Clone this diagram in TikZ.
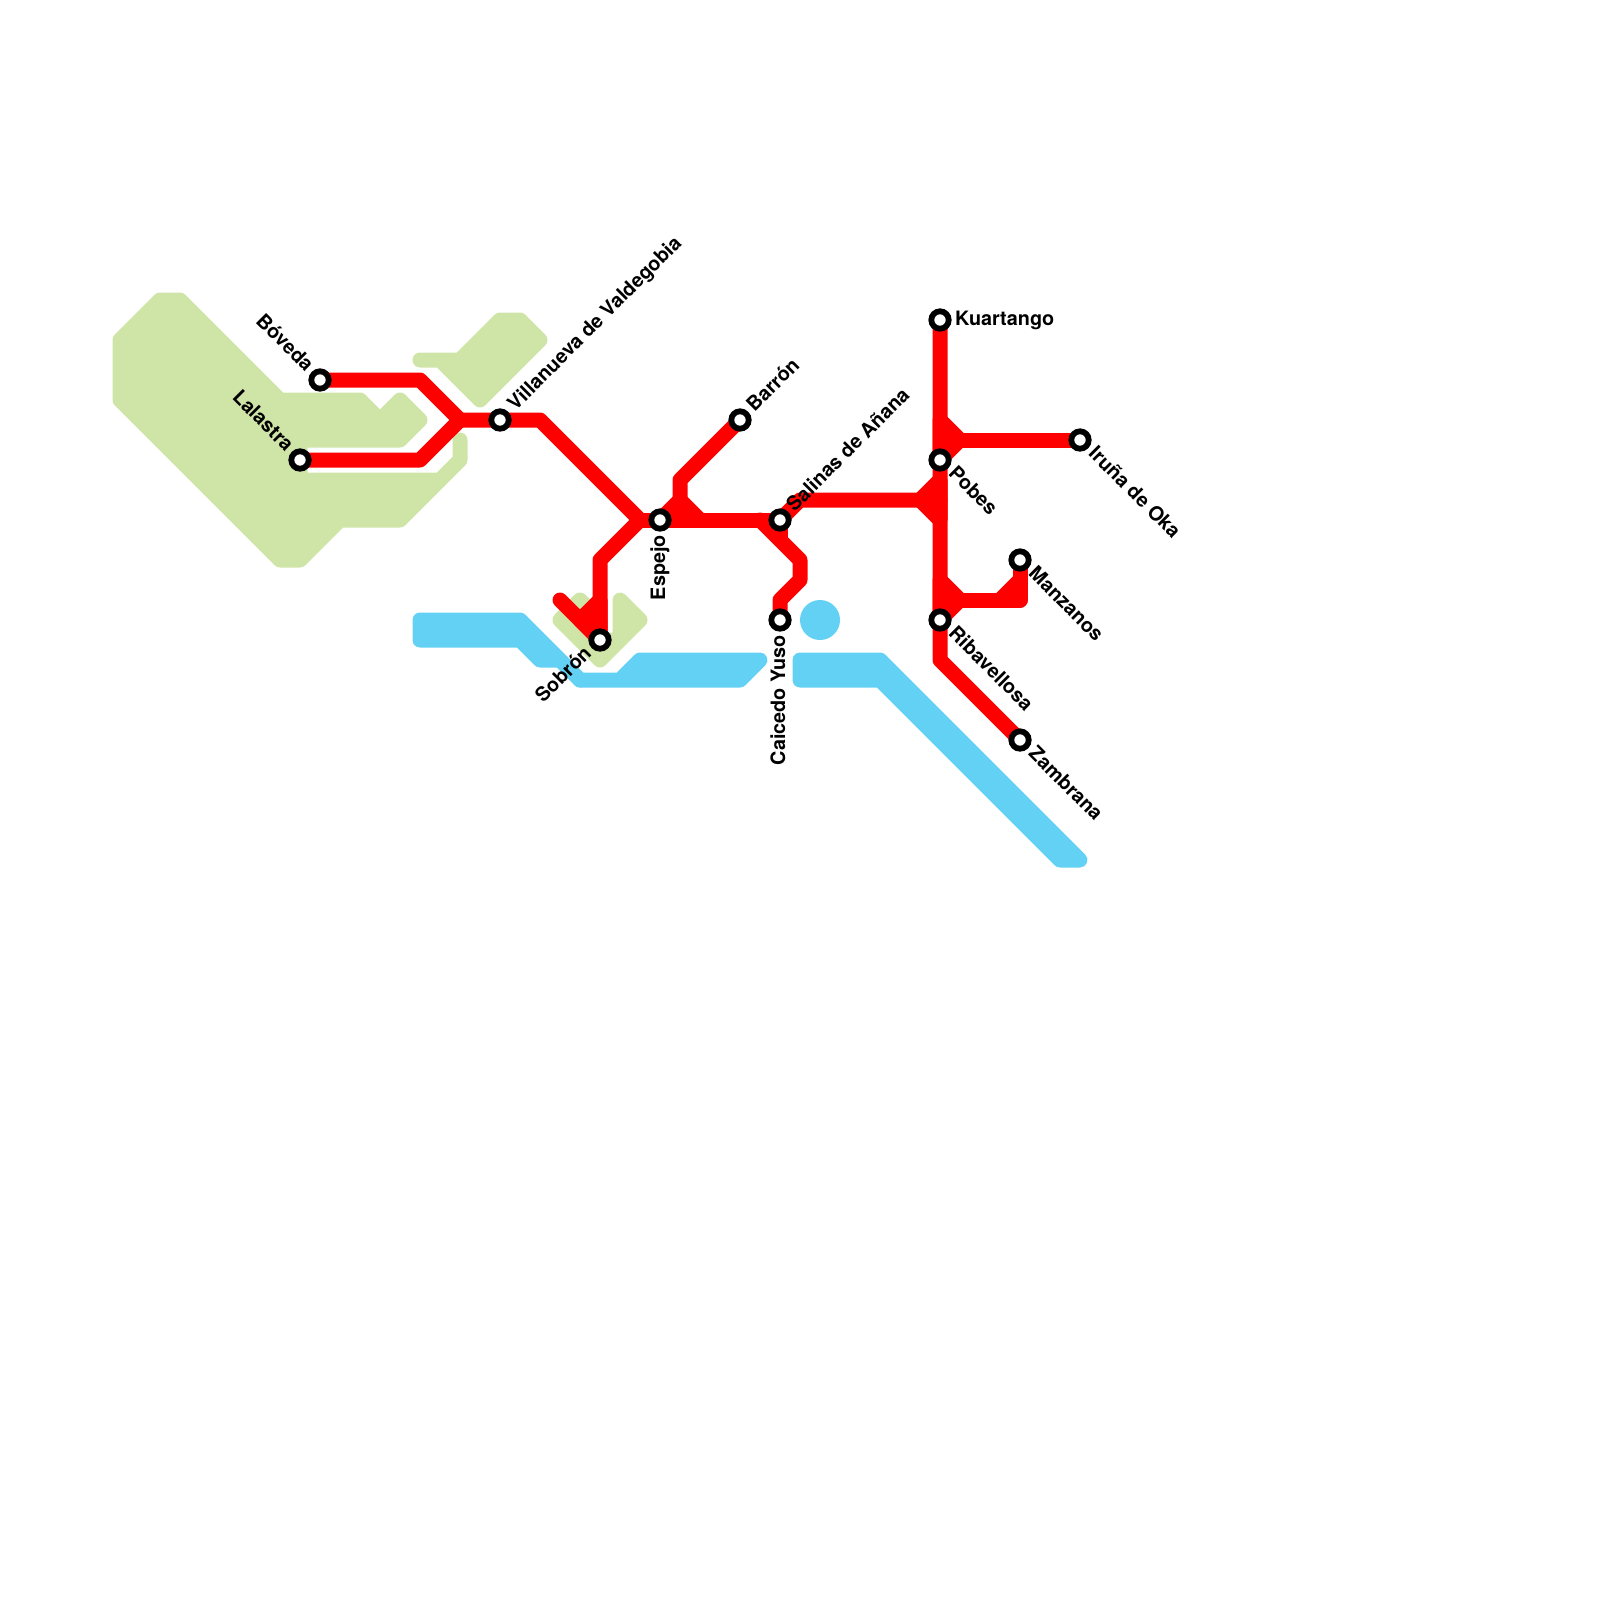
\documentclass[tikz,border=0pt]{standalone}
\usepackage{fontspec}
\setmainfont{TeX Gyre Heros}
\usetikzlibrary{backgrounds}
\definecolor{lred}{HTML}{FF0000}
\definecolor{lblue}{HTML}{63D1F4}
\definecolor{lgreen}{HTML}{CFE4A7}
\tikzset{
  track/.style={line width=15pt,line join=round,line cap=round},
  redline/.style={track,draw=lred},
  redfill/.style={track,draw=lred,fill=lred},
  bluearea/.style={track,draw=lblue,fill=lblue},
  greenarea/.style={track,draw=lgreen,fill=lgreen},
  stop/.style={circle,draw=black,fill=white,line width=5.8pt,minimum size=17.4pt,inner sep=0pt},
  lab/.style={font=\fontsize{19.8}{24}\selectfont\bfseries,inner sep=0pt,text height=14pt,text depth=4pt,text=black},
}
\begin{document}
\begin{tikzpicture}[x=1pt,y=-1pt]
\useasboundingbox (0,0) rectangle (1600,1600);
% stations
\node[stop] (boveda) at (320,380) {};
\node[stop] (lalastra) at (300,460) {};
\node[stop] (villa) at (500,420) {};
\node[stop] (sobron) at (600,640) {};
\node[stop] (espejo) at (660,520) {};
\node[stop] (barron) at (740,420) {};
\node[stop] (salinas) at (780,520) {};
\node[stop] (caicedo) at (780,620) {};
\node[stop] (kuartango) at (940,320) {};
\node[stop] (pobes) at (940,460) {};
\node[stop] (iruna) at (1080,440) {};
\node[stop] (manzanos) at (1020,560) {};
\node[stop] (ribav) at (940,620) {};
\node[stop] (zambrana) at (1020,740) {};
% labels
\node[lab,anchor=east,rotate=-45] (tboveda) at (309,369) {Bóveda};
\node[lab,anchor=east,rotate=-45] (tlalastra) at (289,449) {Lalastra};
\node[lab,anchor=west,rotate=45] (tvilla) at (512,408) {Villanueva de Valdegobia};
\node[lab,anchor=east,rotate=45] (tsobron) at (589,651) {Sobrón};
\node[lab,anchor=east,rotate=90] (tespejo) at (660,535) {Espejo};
\node[lab,anchor=west,rotate=45] (tbarron) at (751,409) {Barrón};
\node[lab,anchor=west,rotate=45] (tsalinas) at (791,509) {Salinas de Añana};
\node[lab,anchor=east,rotate=90] (tcaicedo) at (780,635) {Caicedo Yuso};
\node[lab,anchor=west] (tkuartango) at (955,320) {Kuartango};
\node[lab,anchor=west,rotate=-45] (tpobes) at (951,471) {Pobes};
\node[lab,anchor=west,rotate=-45] (tiruna) at (1091,451) {Iruña de Oka};
\node[lab,anchor=west,rotate=-45] (tmanzanos) at (1031,571) {Manzanos};
\node[lab,anchor=west,rotate=-45] (tribav) at (951,631) {Ribavellosa};
\node[lab,anchor=west,rotate=-45] (tzambrana) at (1031,751) {Zambrana};
% junctions
\coordinate (jw) at (460,420);
\coordinate (je) at (640,520);
\coordinate (jb) at (680,500);
\coordinate (js) at (760,520);
\coordinate (jp) at (940,500);
\begin{pgfonlayer}{background}
% green
\draw[greenarea] (160,300) -- (180,300) -- (280,400) -- (360,400) -- (380,420) -- (400,400) -- (420,420) -- (400,440) -- (300,440) -- (300,480) -- (440,480) -- (460,460) -- (460,440) -- (460,460) -- (400,520) -- (340,520) -- (300,560) -- (280,560) -- (120,400) -- (120,340) -- cycle;
\draw[greenarea] (420,360) -- (460,360) -- (500,320) -- (520,320) -- (540,340) -- (480,400) -- (440,360) -- cycle;
\draw[greenarea] (560,620) -- (580,600) -- (600,620) -- (600,640) -- (620,640) -- (620,600) -- (640,620) -- (600,660) -- cycle;
% blue
\draw[bluearea] (420,620) -- (520,620) -- (580,680) -- (560,660) -- (540,660) -- (520,640) -- (420,640) -- cycle;
\draw[bluearea] (580,680) -- (620,680) -- (640,660) -- (760,660) -- (740,680) -- cycle;
\draw[bluearea] (800,660) -- (880,660) -- (1080,860) -- (1060,860) -- (880,680) -- (800,680) -- cycle;
\fill[lblue] (820,620) circle[radius=20];
% red
\draw[redline] (boveda.center) -- (420,380) -- (jw);
\draw[redline] (lalastra.center) -- (420,460) -- (jw);
\draw[redline] (jw) -- (villa.center) -- (540,420) -- (je);
\draw[redline] (je) -- (600,560) -- (sobron.center);
\draw[redline] (560,600) -- (sobron.center);
\draw[redfill] (580,620) -- (600,600) -- (sobron.center) -- cycle;
\draw[redline] (je) -- (espejo.center) -- (salinas.center);
\draw[redline] (barron.center) -- (680,480) -- (jb);
\draw[redfill] (espejo.center) -- (jb) -- (700,520) -- cycle;
\draw[redline] (js) -- (800,560) -- (800,580) -- (780,600) -- (caicedo.center);
\draw[redline] (salinas.center) -- (780,540);
\draw[redline] (salinas.center) -- (800,500) -- (jp);
\draw[redfill] (940,480) -- (920,500) -- (940,520) -- cycle;
\draw[redline] (kuartango.center) -- (940,660) -- (zambrana.center);
\draw[redfill] (940,420) -- (960,440) -- (pobes.center) -- cycle;
\draw[redline] (960,440) -- (iruna.center);
\draw[redfill] (940,580) -- (960,600) -- (ribav.center) -- cycle;
\draw[redline] (960,600) -- (1020,600) -- (manzanos.center);
\draw[redfill] (1000,600) -- (1020,580) -- (1020,600) -- cycle;
\end{pgfonlayer}
\end{tikzpicture}
\end{document}
